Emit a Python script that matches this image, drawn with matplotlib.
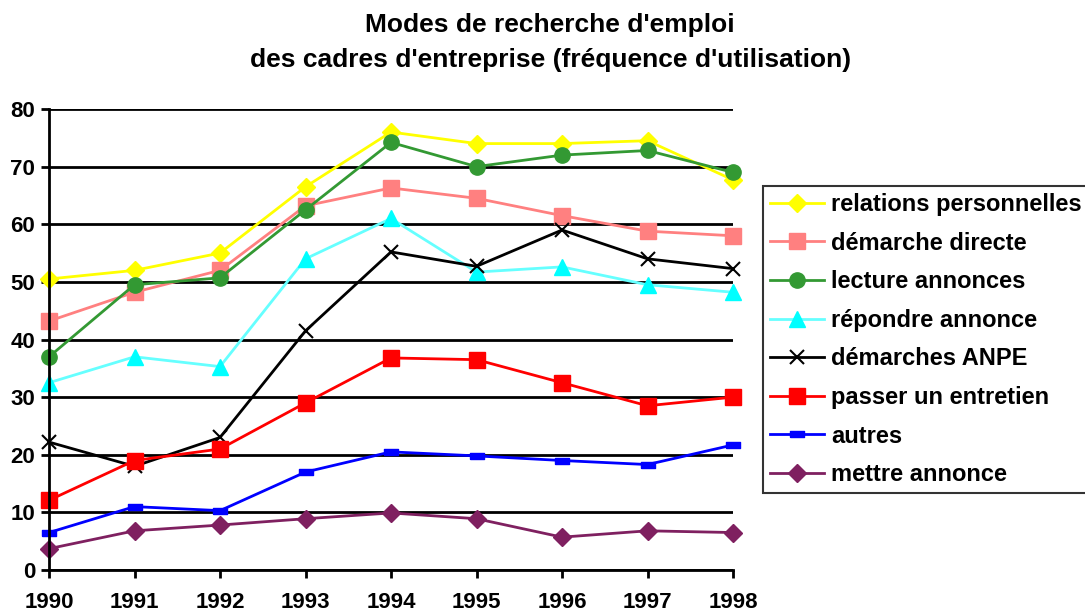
import matplotlib.pyplot as plt
import numpy as np

plt.rcParams["font.family"] = ["Liberation Sans", "DejaVu Sans"]
plt.rcParams["font.weight"] = "bold"

years = [1990, 1991, 1992, 1993, 1994, 1995, 1996, 1997, 1998]

relations = [50.5, 52, 55, 66.5, 76, 74, 74, 74.5, 67.7]
demarche_directe = [43.2, 48.2, 52, 63.2, 66.3, 64.5, 61.5, 58.8, 58]
lecture = [37, 49.5, 50.7, 62.5, 74.2, 70, 72, 72.8, 69]
repondre = [32.5, 37, 35.3, 54, 61, 51.7, 52.6, 49.5, 48.2]
anpe = [22.2, 18, 23, 41.5, 55.2, 52.7, 59, 54, 52.3]
entretien = [12.1, 19, 21, 29, 36.8, 36.5, 32.5, 28.5, 30]
autres = [6.5, 11, 10.3, 17, 20.5, 19.8, 19, 18.3, 21.7]
mettre = [3.7, 6.8, 7.8, 8.9, 9.9, 8.9, 5.7, 6.8, 6.5]

labels = ["relations personnelles", "démarche directe", "lecture annonces",
          "répondre annonce", "démarches ANPE", "passer un entretien",
          "autres", "mettre annonce"]

DASH = [(-1, -0.4), (1, -0.4), (1, 0.4), (-1, 0.4), (-1, -0.4)]

# (values, line colour, marker, marker colour, marker size)
series = [
    (relations, "#ffff00", "D", "#ffff00", 9),
    (demarche_directe, "#ff8080", "s", "#ff8080", 12),
    (lecture, "#339933", "o", "#339933", 11),
    (repondre, "#66ffff", "^", "#00ffff", 11),
    (anpe, "black", "x", "black", 10),
    (entretien, "#ff0000", "s", "#ff0000", 12),
    (autres, "#0000ff", DASH, "#0000ff", 10),
    (mettre, "#7f2060", "D", "#7f2060", 9),
]

fig = plt.figure(figsize=(10.85, 6.13), dpi=100)
ax = fig.add_axes([49 / 1085, 1 - 570 / 613, (733 - 49) / 1085, (570 - 109) / 613])

for (vals, lc, mk, mc, ms), lab in zip(series, labels):
    ax.plot(years, vals, color=lc, lw=2, marker=mk, markersize=ms,
            markerfacecolor=mc, markeredgecolor=mc,
            markeredgewidth=1.5 if mk == "x" else 1, label=lab, clip_on=False)

ax.set_xlim(1990, 1998)
ax.set_ylim(0, 80)
ax.set_xticks(years)
ax.set_yticks(np.arange(0, 81, 10))
ax.yaxis.grid(True, color="black", lw=2)
ax.set_axisbelow(True)
for s in ["top", "right"]:
    ax.spines[s].set_visible(False)
for s in ["left", "bottom"]:
    ax.spines[s].set_linewidth(2)
ax.tick_params(axis="both", direction="out", width=2, length=6, labelsize=16)
ax.tick_params(axis="x", pad=10)
ax.tick_params(axis="y", pad=4)
for t in ax.get_xticklabels() + ax.get_yticklabels():
    t.set_fontweight("bold")

fig.text(0.507, 1 - 25 / 613, "Modes de recherche d'emploi",
         ha="center", va="center", fontsize=19, fontweight="bold")
fig.text(0.507, 1 - 60 / 613, "des cadres d'entreprise (fréquence d'utilisation)",
         ha="center", va="center", fontsize=19, fontweight="bold")

leg = fig.legend(loc="upper left", bbox_to_anchor=(763 / 1085, 1 - 186 / 613),
                 fontsize=17, frameon=True, fancybox=False, borderpad=0.3,
                 handlelength=2.3, handletextpad=0.3, labelspacing=0.66,
                 borderaxespad=0)
leg.get_frame().set_edgecolor("black")
leg.get_frame().set_linewidth(1.5)
for t in leg.get_texts():
    t.set_fontweight("bold")

fig.savefig("out.png", dpi=100)
